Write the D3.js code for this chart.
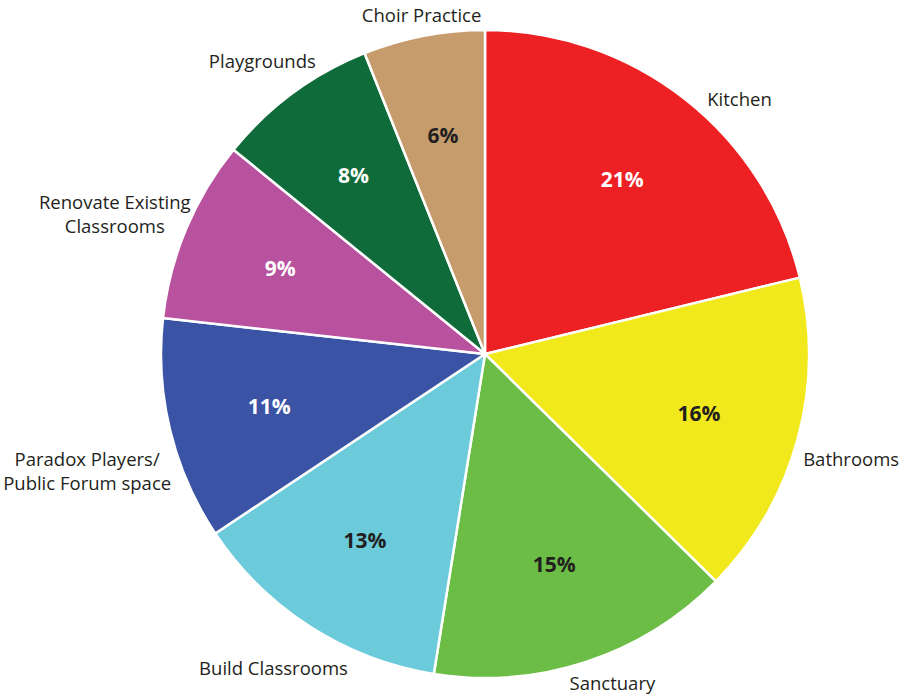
<!DOCTYPE html>
<html>
<head>
<meta charset="utf-8">
<script src="https://cdn.jsdelivr.net/npm/d3@7"></script>
<style>
  body { margin: 0; background: #fff; }
  svg { display: block; }
</style>
</head>
<body>
<svg id="chart" width="910" height="694"></svg>
<script>
"use strict";

// data
var categories = [ "Kitchen", "Bathrooms", "Sanctuary", "Build Classrooms",
  "Paradox Players/\nPublic Forum space", "Renovate Existing\nClassrooms",
  "Playgrounds", "Choir Practice" ];
var shares = [ 21, 16, 15, 13, 11, 9, 8, 6 ];
var sliceColors = [ "#ed2024", "#f1e91b", "#6bbd45", "#6bcbdb",
  "#3a53a4", "#b8519e", "#0f6b3a", "#c69c6d" ];
var pctColors = [ "#fff", "#231f20", "#231f20", "#231f20",
  "#fff", "#fff", "#fff", "#231f20" ];

var W = 910, H = 694;
var cx = 485, cy = 354, R = 324;

// hand nudges for the outside labels, like the original layout
var labelNudge = [ [37, 22], [8, 7], [19, 0], [-10, 1], [0, 21], [0, 16], [-7, 0], [2, 1] ];

var svg = d3.select("#chart");
var g = svg.append("g").attr("transform", "translate(" + cx + "," + cy + ")");

var rows = categories.map(function(c, i) { return { name: c, value: shares[i], i: i } });

var pie = d3.pie()
  .sort(null)
  .value(function(d) { return d.value });
var arcs = pie(rows);

var arc = d3.arc().innerRadius(0).outerRadius(R);
var pctArc = d3.arc().innerRadius(222).outerRadius(222);

// slices
g.selectAll("path")
  .data(arcs)
  .enter().append("path")
    .attr("d", arc)
    .style("fill", function(d) { return sliceColors[d.data.i] })
    .style("stroke", "#fff")
    .style("stroke-width", 2.5)
    .style("stroke-linejoin", "round");

// percent labels
g.selectAll("text.pct")
  .data(arcs)
  .enter().append("text")
    .attr("class", "pct")
    .attr("transform", function(d) { return "translate(" + pctArc.centroid(d) + ")" })
    .attr("text-anchor", "middle")
    .attr("dy", "0.35em")
    .style("font-family", "'Open Sans', sans-serif")
    .style("font-weight", "bold")
    .style("font-size", "21px")
    .style("fill", function(d) { return pctColors[d.data.i] })
    .text(function(d) { return d.data.value + "%" });

// outer labels
var lineH = 24;
var labels = g.selectAll("g.lab")
  .data(arcs)
  .enter().append("g")
    .attr("class", "lab");

labels.each(function(d) {
  var sel = d3.select(this);
  var lines = d.data.name.split("\n");
  var t = sel.append("text")
    .attr("text-anchor", "middle")
    .style("font-family", "'Open Sans', sans-serif")
    .style("font-size", "18.5px")
    .style("fill", "#231f20");
  lines.forEach(function(l, k) {
    t.append("tspan")
      .attr("x", 0)
      .attr("y", (k - (lines.length - 1) / 2) * lineH)
      .attr("dy", "0.35em")
      .text(l);
  });
  var bb = t.node().getBBox();
  var a = (d.startAngle + d.endAngle) / 2;
  var s = Math.sin(a), c = -Math.cos(a);
  var reach = Math.abs(s) * bb.width / 2 + Math.abs(c) * bb.height / 2;
  var r = R - 2 + reach;
  var n = labelNudge[d.data.i];
  sel.attr("transform", "translate(" + (s * r + n[0]) + "," + (c * r + n[1]) + ")");
});
</script>
</body>
</html>
